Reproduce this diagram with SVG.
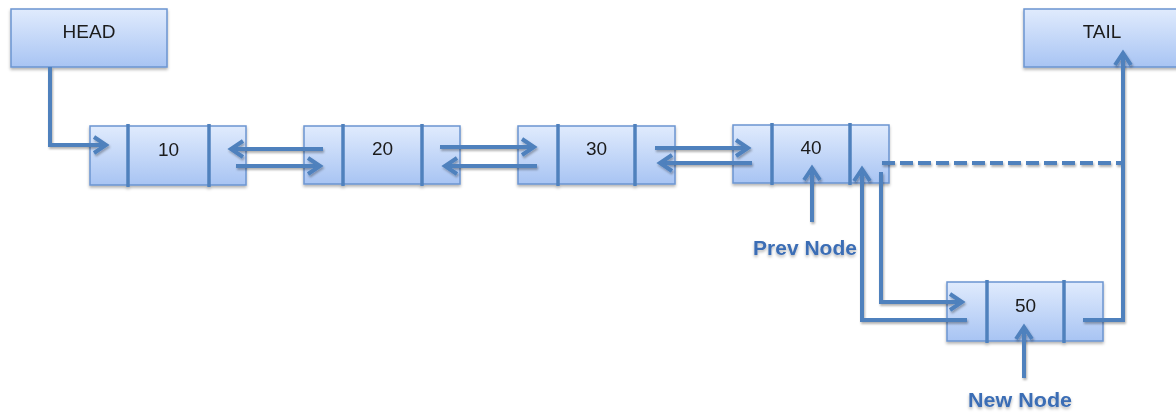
<svg xmlns="http://www.w3.org/2000/svg" width="1176" height="412" viewBox="0 0 1176 412">
  <defs>
    <linearGradient id="boxFill" x1="0" y1="0" x2="0" y2="1">
      <stop offset="0" stop-color="#e0ebfd"/>
      <stop offset="1" stop-color="#a8c4f3"/>
    </linearGradient>
    <filter id="shadow" x="-10%" y="-20%" width="120%" height="150%">
      <feDropShadow dx="0" dy="2" stdDeviation="1.5" flood-color="#000" flood-opacity="0.3"/>
    </filter>
    <filter id="lineShadow" x="-5%" y="-5%" width="110%" height="110%">
      <feDropShadow dx="1" dy="2" stdDeviation="1.2" flood-color="#000" flood-opacity="0.3"/>
    </filter>
    <marker id="arrow" markerUnits="userSpaceOnUse" viewBox="-16 -12 22 24" markerWidth="22" markerHeight="24" refX="0" refY="0" orient="auto">
      <path d="M-12,-8 L0,0 L-12,8" fill="none" stroke="#4f81bd" stroke-width="4" stroke-linejoin="miter"/>
    </marker>
  </defs>
  <style>
    .box { fill: url(#boxFill); stroke: #6b95d1; stroke-width: 1.5; }
    .div { stroke: #4f81bd; stroke-width: 3.5; }
    .val { font-family: "Liberation Sans", Arial, sans-serif; font-size: 19px; fill: #1a1a1a; text-anchor: middle; }
    .lbl { font-family: "Liberation Sans", Arial, sans-serif; font-size: 20px; font-weight: bold; fill: #3b6db5; text-anchor: middle; }
    .conn { fill: none; stroke: #4f81bd; stroke-width: 4; }
    .arr { marker-end: url(#arrow); }
    .dash { stroke-dasharray: 13 5; }
  </style>

  <!-- pointer boxes -->
  <g id="head" filter="url(#shadow)">
    <rect class="box" x="11" y="9" width="156" height="58"/>
    <text class="val" x="89" y="38">HEAD</text>
  </g>
  <g id="tail" filter="url(#shadow)">
    <rect class="box" x="1024" y="9" width="156" height="58"/>
    <text class="val" x="1102" y="38">TAIL</text>
  </g>

  <!-- list nodes: prev | value | next -->
  <g id="node10" filter="url(#shadow)">
    <rect class="box" x="90" y="126" width="156" height="59"/>
    <line class="div" x1="128" y1="124" x2="128" y2="187"/>
    <line class="div" x1="209" y1="124" x2="209" y2="187"/>
    <text class="val" x="168.5" y="156">10</text>
  </g>
  <g id="node20" filter="url(#shadow)">
    <rect class="box" x="304" y="126" width="156" height="58"/>
    <line class="div" x1="343" y1="124" x2="343" y2="186"/>
    <line class="div" x1="422" y1="124" x2="422" y2="186"/>
    <text class="val" x="382.5" y="155">20</text>
  </g>
  <g id="node30" filter="url(#shadow)">
    <rect class="box" x="518" y="126" width="157" height="58"/>
    <line class="div" x1="558" y1="124" x2="558" y2="186"/>
    <line class="div" x1="635" y1="124" x2="635" y2="186"/>
    <text class="val" x="596.5" y="155">30</text>
  </g>
  <g id="node40" filter="url(#shadow)">
    <rect class="box" x="733" y="125" width="156" height="58"/>
    <line class="div" x1="772" y1="123" x2="772" y2="185"/>
    <line class="div" x1="850" y1="123" x2="850" y2="185"/>
    <text class="val" x="811" y="154">40</text>
  </g>
  <g id="node50" filter="url(#shadow)">
    <rect class="box" x="947" y="282" width="156" height="59"/>
    <line class="div" x1="987" y1="280" x2="987" y2="343"/>
    <line class="div" x1="1064" y1="280" x2="1064" y2="343"/>
    <text class="val" x="1025.5" y="312">50</text>
  </g>

  <!-- labels -->
  <g id="prevLabel">
    <text class="lbl" x="805" y="255" textLength="104" lengthAdjust="spacingAndGlyphs" filter="url(#shadow)">Prev Node</text>
  </g>
  <g id="newLabel">
    <text class="lbl" x="1020" y="407" textLength="104" lengthAdjust="spacingAndGlyphs" filter="url(#shadow)">New Node</text>
  </g>

  <!-- links -->
  <g id="connectors" filter="url(#lineShadow)">
    <path class="conn arr" d="M50,67 V145 H106"/>
    <path class="conn arr" d="M323,149 H231"/>
    <path class="conn arr" d="M236,166 H320"/>
    <path class="conn arr" d="M440,147 H534"/>
    <path class="conn arr" d="M537,166 H445"/>
    <path class="conn arr" d="M655,148 H748"/>
    <path class="conn arr" d="M752,163 H660"/>
    <path class="conn arr" d="M812,222 V168"/>
    <path class="conn arr" d="M1024,378 V327"/>
    <path class="conn arr" d="M881,172 V302 H962"/>
    <path class="conn arr" d="M967,320 H862 V169"/>
    <path class="conn arr" d="M1083,320 H1123 V53"/>
    <path class="conn dash" d="M882,163 H1123"/>
  </g>
</svg>
